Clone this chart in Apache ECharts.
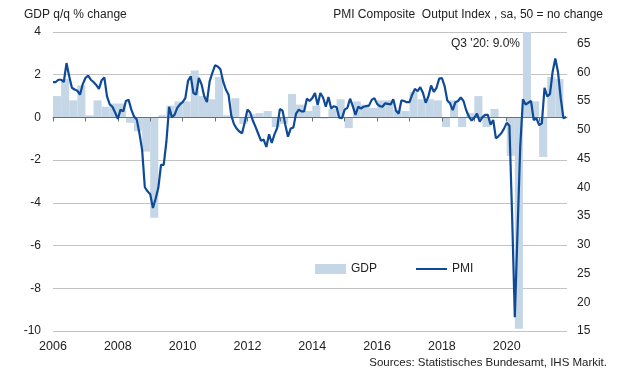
<!DOCTYPE html>
<html><head><meta charset="utf-8">
<script src="https://cdn.jsdelivr.net/npm/echarts@6/dist/echarts.min.js"></script>
<style>html,body{margin:0;padding:0;background:#fff}#c{width:627px;height:386px}</style>
</head><body><div id="c"></div>
<script>
const startYear = 2006;
// GDP q/q % change, quarterly, 2006 Q1 .. 2021 Q3
const gdp = [
  1.0, 1.8, 0.8, 1.5,
  0.1, 0.8, 0.5, 0.65,
  0.65, -0.25, -0.65, -1.6,
  -4.7, 0.1, 0.55, 0.75,
  0.75, 2.2, 1.0, 0.85,
  1.9, 0.1, 0.9, -0.3,
  0.15, 0.2, 0.3, -0.45,
  -0.3, 1.1, 0.6, 0.3,
  0.55, -0.05, 0.4, 0.85,
  -0.5, 0.75, 0.6, 0.45,
  0.8, 0.8, 0.35, 0.3,
  1.2, 0.85, 0.85, 0.8,
  -0.45, 0.8, -0.45, 0.2,
  1.0, -0.45, 0.4, 0.0,
  -1.8, -9.9, 9.0, 0.75,
  -1.85, 1.9, 1.8
];
// PMI Composite Output Index, monthly, Jan 2006 .. Nov 2021
const pmi = [
  58.3, 58.3, 58.7, 58.7, 58.3, 61.6, 59.3, 57.3, 57.0, 56.8, 56.1, 57.9,
  59.0, 59.4, 58.7, 58.3, 57.8, 57.1, 58.6, 59.1, 55.8, 54.4, 54.0, 53.0,
  51.9, 53.5, 53.2, 55.0, 55.2, 53.5, 52.3, 51.8, 49.4, 46.5, 40.0, 39.3,
  38.8, 36.4, 38.0, 39.9, 43.9, 43.9, 48.0, 54.0, 52.2, 52.6, 53.8, 54.4,
  54.8, 55.5, 58.5, 59.3, 56.4, 56.1, 59.0, 57.9, 55.8, 54.8, 58.4, 59.9,
  61.2, 61.0, 60.5, 58.4, 57.0, 56.1, 52.5, 51.0, 50.2, 49.7, 49.4, 51.3,
  53.5, 53.0, 51.6, 50.5, 49.3, 48.1, 48.3, 47.0, 49.2, 47.7, 49.2, 50.3,
  53.6, 53.3, 50.9, 48.8, 50.2, 50.4, 52.8, 53.5, 53.2, 53.2, 55.4, 55.0,
  55.5, 56.4, 54.3, 56.4, 55.6, 54.0, 55.7, 53.7, 54.1, 53.9, 52.1, 52.0,
  53.5, 53.8, 55.4, 54.1, 52.6, 54.0, 53.7, 54.0, 54.1, 54.2, 55.2, 55.5,
  54.5, 54.1, 54.0, 54.6, 54.5, 54.4, 55.3, 53.3, 52.8, 55.1, 55.0, 54.8,
  54.8, 56.1, 57.1, 56.7, 57.4, 56.4, 54.7, 55.8, 57.7, 56.6, 57.3, 58.9,
  59.0, 57.6, 55.1, 54.6, 53.4, 54.8, 55.0, 55.6, 55.0, 53.4, 52.3, 51.6,
  52.1, 52.8, 51.4, 52.2, 52.6, 52.6, 50.9, 51.7, 48.5, 48.9, 49.4, 50.2,
  51.2, 50.7, 35.0, 17.4, 32.3, 47.0, 55.3, 54.4, 54.7, 55.0, 51.7, 52.0,
  50.8, 51.1, 57.3, 55.8, 56.2, 60.1, 62.4, 60.0, 55.5, 52.0, 52.2
];
const yearTicks = [2006,2007,2008,2009,2010,2011,2012,2013,2014,2015,2016,2017,2018,2019,2020,2021];
const yearLabels = [2006,2008,2010,2012,2014,2016,2018,2020];
const rightLabels = [15,20,25,30,35,40,45,50,55,60,65];
const titleLeft = 'GDP q/q % change';
const titleRight = 'PMI Composite  Output Index , sa, 50 = no change';
const note = "Q3 '20: 9.0%";
const source = 'Sources: Statistisches Bundesamt, IHS Markit.';

const gdpData = gdp.map((v, i) => [startYear + i / 4 + 0.125, v]);
const pmiData = pmi.map((v, i) => [startYear + i / 12, v]);

const FONT = 'Liberation Sans, Arial, Helvetica, sans-serif';
const TXT = '#222';
const chart = echarts.init(document.getElementById('c'), null, {renderer: 'canvas'});
chart.setOption({
  animation: false,
  backgroundColor: '#fff',
  textStyle: {fontFamily: FONT},
  title: [
    {text: titleLeft, left: 24, top: 9, padding: 0, textStyle: {fontSize: 12, fontWeight: 'normal', color: TXT, fontFamily: FONT}},
    {text: titleRight, right: 24, top: 9, padding: 0, textStyle: {fontSize: 12, fontWeight: 'normal', color: TXT, fontFamily: FONT}},
    {text: note, right: 107, top: 38, padding: 0, textStyle: {fontSize: 12, fontWeight: 'normal', color: TXT, fontFamily: FONT}},
    {text: source, right: 20, top: 357, padding: 0, textStyle: {fontSize: 11.5, fontWeight: 'normal', color: TXT, fontFamily: FONT}}
  ],
  legend: {
    left: 315, top: 263, itemWidth: 31, itemHeight: 10, itemGap: 38, padding: 0,
    textStyle: {fontSize: 12, color: TXT, fontFamily: FONT},
    data: [
      {name: 'GDP', icon: 'rect'},
      {name: 'PMI', itemStyle: {opacity: 0, borderWidth: 0}}
    ]
  },
  grid: {left: 53, right: 60, top: 32, bottom: 55, containLabel: false},
  xAxis: [
    {
      type: 'value', min: 2006, max: 2021.86, position: 'top', z: 5,
      axisLine: {show: true, onZero: true, onZeroAxisIndex: 0, lineStyle: {color: '#6f6f6f', width: 1}},
      axisTick: {show: true, inside: true, length: 4, customValues: yearTicks, lineStyle: {color: '#6f6f6f', width: 1}},
      axisLabel: {show: false},
      splitLine: {show: false}
    },
    {
      type: 'value', min: 2006, max: 2021.86, position: 'bottom',
      axisLine: {show: false, onZero: false},
      axisTick: {show: false},
      axisLabel: {show: true, customValues: yearLabels, formatter: v => String(Math.round(v)), fontSize: 12.5, color: TXT, margin: 9, fontFamily: FONT},
      splitLine: {show: false}
    }
  ],
  yAxis: [
    {
      type: 'value', min: -10, max: 4, interval: 2, position: 'left',
      axisLine: {show: false}, axisTick: {show: false},
      axisLabel: {color: TXT, fontSize: 12, margin: 12, fontFamily: FONT},
      splitLine: {show: true, lineStyle: {color: '#c3c3c3', width: 1}}
    },
    {
      type: 'value', min: 15, max: 67, interval: 5, position: 'right',
      axisLine: {show: false}, axisTick: {show: false},
      axisLabel: {color: TXT, fontSize: 12, margin: 10, customValues: rightLabels, fontFamily: FONT},
      splitLine: {show: false}
    }
  ],
  series: [
    {
      name: 'GDP', type: 'bar', xAxisIndex: 0, yAxisIndex: 0, data: gdpData,
      barWidth: 8.1, clip: true, z: 1,
      itemStyle: {color: '#c5d6e6'}
    },
    {
      name: 'PMI', type: 'line', xAxisIndex: 0, yAxisIndex: 1, data: pmiData,
      symbol: 'none', showSymbol: false, z: 6,
      lineStyle: {color: '#0e4a96', width: 2.2},
      itemStyle: {color: '#0e4a96'}
    }
  ]
});
</script>
</body></html>
